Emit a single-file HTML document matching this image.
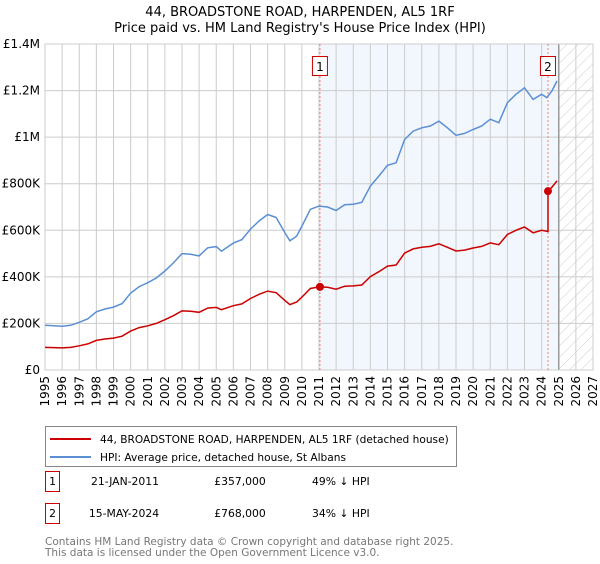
<!DOCTYPE html>
<html><head><meta charset="utf-8"><style>
body{margin:0;background:#fff;font-family:"DejaVu Sans","Liberation Sans",sans-serif;}
svg text{font-family:"DejaVu Sans","Liberation Sans",sans-serif;}
</style></head><body>
<svg id="c" width="600" height="560" xmlns="http://www.w3.org/2000/svg">
<defs><pattern id="hatch" width="8" height="8" patternUnits="userSpaceOnUse" patternTransform="rotate(45)"><line x1="0" y1="0" x2="0" y2="8" stroke="#ccc" stroke-width="1"/></pattern></defs>
<text x="300" y="16" text-anchor="middle" font-size="13" fill="#000">44, BROADSTONE ROAD, HARPENDEN, AL5 1RF</text>
<text x="300" y="32" text-anchor="middle" font-size="13" fill="#000">Price paid vs. HM Land Registry's House Price Index (HPI)</text>
<g id="plot"></g>
<g>
<rect x="45.5" y="426.5" width="411" height="40" fill="#fff" stroke="#888"/>
<line x1="50" y1="439" x2="91" y2="439" stroke="#cc0000" stroke-width="2"/>
<text x="100" y="443" font-size="10.6">44, BROADSTONE ROAD, HARPENDEN, AL5 1RF (detached house)</text>
<line x1="50" y1="457" x2="91" y2="457" stroke="#5b8fd4" stroke-width="2"/>
<text x="100" y="461" font-size="10.6">HPI: Average price, detached house, St Albans</text>
</g>
<g font-size="10.8">
<rect x="45.5" y="471.5" width="14" height="20" fill="#fff" stroke="#cc0000"/>
<text x="52.5" y="485" text-anchor="middle">1</text>
<text x="125" y="485" text-anchor="middle">21-JAN-2011</text>
<text x="240" y="485" text-anchor="middle">£357,000</text>
<text x="312" y="485">49% ↓ HPI</text>
<rect x="45.5" y="503.5" width="14" height="20" fill="#fff" stroke="#cc0000"/>
<text x="52.5" y="517" text-anchor="middle">2</text>
<text x="124" y="517" text-anchor="middle">15-MAY-2024</text>
<text x="240" y="517" text-anchor="middle">£768,000</text>
<text x="312" y="517">34% ↓ HPI</text>
</g>
<text x="45" y="545" font-size="10.5" fill="#777">Contains HM Land Registry data © Crown copyright and database right 2025.</text>
<text x="45" y="556" font-size="10.5" fill="#777">This data is licensed under the Open Government Licence v3.0.</text>
</svg>
<script>
const hpiYears=[1995,1995.5,1996,1996.5,1997,1997.5,1998,1998.5,1999,1999.5,2000,2000.5,2001,2001.5,2002,2002.5,2003,2003.5,2004,2004.5,2005,2005.3,2006,2006.5,2007,2007.5,2008,2008.5,2009,2009.3,2009.7,2010,2010.5,2011,2011.5,2012,2012.5,2013,2013.5,2014,2014.5,2015,2015.5,2016,2016.5,2017,2017.5,2018,2018.5,2019,2019.5,2020,2020.5,2021,2021.5,2022,2022.5,2023,2023.5,2024,2024.3,2024.6,2024.9];
const hpiValues=[192,190,188,192,205,220,250,262,270,285,330,358,375,395,425,460,500,497,490,525,530,510,545,560,605,640,668,655,590,555,575,618,690,704,700,685,710,712,720,790,833,879,890,990,1026,1040,1048,1069,1040,1008,1016,1033,1048,1077,1062,1148,1184,1212,1162,1184,1170,1198,1241];
const propYears=[1995,1995.5,1996,1996.5,1997,1997.5,1998,1998.5,1999,1999.5,2000,2000.5,2001,2001.5,2002,2002.5,2003,2003.5,2004,2004.5,2005,2005.3,2006,2006.5,2007,2007.5,2008,2008.5,2009,2009.3,2009.7,2010,2010.5,2011,2011.5,2012,2012.5,2013,2013.5,2014,2014.5,2015,2015.5,2016,2016.5,2017,2017.5,2018,2018.5,2019,2019.5,2020,2020.5,2021,2021.5,2022,2022.5,2023,2023.5,2024,2024.37,2024.37,2024.6,2024.9];
const propValues=[97,96,95,97,104,112,127,133,137,145,167,182,190,200,216,233,254,252,248,266,269,259,276,284,307,325,339,332,299,281,292,313,350,357,355,347,360,361,365,401,422,446,451,502,520,527,531,542,527,511,515,524,531,546,538,582,600,614,589,600,595,768,785,812];
const sales=[{t:2011.055,v:357,label:"1"},{t:2024.37,v:768,label:"2"}];
const yTickValues=[0,200,400,600,800,1000,1200,1400];
const yTickLabels=["£0","£200K","£400K","£600K","£800K","£1M","£1.2M","£1.4M"];
const xTickYears=[1995,1996,1997,1998,1999,2000,2001,2002,2003,2004,2005,2006,2007,2008,2009,2010,2011,2012,2013,2014,2015,2016,2017,2018,2019,2020,2021,2022,2023,2024,2025,2026,2027];

const L=45,R=593,T=44,B=370;
const x=t=>L+(t-1995)/(2027-1995)*(R-L);
const y=v=>B-v/1400*(B-T);
const NS="http://www.w3.org/2000/svg";
const g=document.getElementById('plot');
function mk(tag,attrs,parent){const e=document.createElementNS(NS,tag);for(const k in attrs)e.setAttribute(k,attrs[k]);(parent||g).appendChild(e);return e;}
const dataEnd=2025.0;
let sh=mk('rect',{x:x(sales[0].t),y:T,width:x(dataEnd)-x(sales[0].t),height:B-T,fill:'#f2f6fd'});


let ht=mk('rect',{x:x(dataEnd),y:T,width:R-x(dataEnd),height:B-T,fill:'url(#hatch)'});


xTickYears.forEach(yr=>{
 const gl=mk('line',{x1:x(yr),x2:x(yr),y1:T,y2:B,stroke:'#ccc','stroke-width':1});
 
 
 const tx=mk('text',{x:0,y:0,'font-size':12,'text-anchor':'end',transform:`translate(${x(yr)+4},${B+6}) rotate(-90)`});
 tx.textContent=yr;
 
 
});
yTickValues.forEach((v,i)=>{
 const gl=mk('line',{x1:L,x2:R,y1:y(v),y2:y(v),stroke:'#ccc','stroke-width':1});
 
 
 const tx=mk('text',{x:L-5,y:y(v)+4,'font-size':12,'text-anchor':'end'});
 tx.textContent=yTickLabels[i];
 
 
});
let vl=mk('line',{x1:x(dataEnd),x2:x(dataEnd),y1:T,y2:B,stroke:'#999','stroke-width':1.5});


let bd=mk('rect',{x:L,y:T,width:R-L,height:B-T,fill:'none',stroke:'#ccc'});


sales.forEach(s=>{
 const dl=mk('line',{x1:x(s.t),x2:x(s.t),y1:T,y2:B,stroke:'#f08080','stroke-width':1,'stroke-dasharray':'2,2'});
 
 
});
const path=(xs,vs)=>xs.map((t,i)=>(i?'L':'M')+x(t).toFixed(1)+','+y(vs[i]).toFixed(1)).join('');
let hp=mk('path',{d:path(hpiYears,hpiValues),fill:'none',stroke:'#5b8fd4','stroke-width':1.5});


let pp=mk('path',{d:path(propYears,propValues),fill:'none',stroke:'#cc0000','stroke-width':1.5});


sales.forEach(s=>{
 const c=mk('circle',{cx:x(s.t),cy:y(s.v),r:4,fill:'#cc0000'});
 
 
 const b=mk('rect',{x:x(s.t)-7.5,y:56.5,width:15,height:19,fill:'#fff',stroke:'#cc0000'});
 
 
 const tx=mk('text',{x:x(s.t),y:71,'font-size':12,'text-anchor':'middle'});
 tx.textContent=s.label;
 
 
});
</script>
</body></html>
